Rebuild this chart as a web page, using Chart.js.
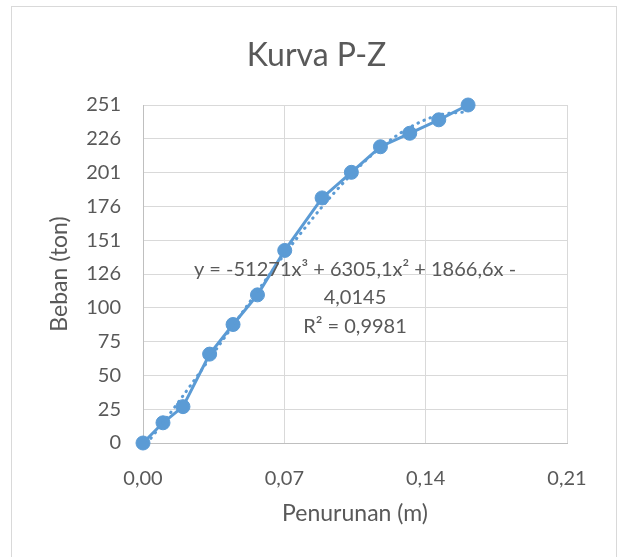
<!DOCTYPE html>
<html>
<head>
<meta charset="utf-8">
<script src="https://cdn.jsdelivr.net/npm/chart.js@4/dist/chart.umd.min.js"></script>
<style>
  html, body { margin: 0; padding: 0; background: #fff; }
  canvas { display: block; }
</style>
</head>
<body>
<canvas id="pzChart" width="617" height="557"></canvas>
<script>
// Penurunan (m) vs Beban (ton)
const penurunan = [0, 0.0099, 0.0198, 0.033, 0.0446, 0.0567, 0.0702, 0.0887, 0.1032, 0.1176, 0.1321, 0.1465, 0.161];
const beban = [0, 15, 27, 66, 88, 110, 143, 182, 201, 220, 230, 240, 251];

// polynomial trendline (order 3) as shown on the chart: a3, a2, a1, a0
const trendCoef = [-51271, 6305.1, 1866.6, -4.0145];
const trendText = ['y = -51271x³ + 6305,1x² + 1866,6x -', '4,0145', 'R² = 0,9981'];

const xTicks = [0, 0.07, 0.14, 0.21];
const xTickLabels = ['0,00', '0,07', '0,14', '0,21'];
const yMax = 251;
const yStep = 25.1;
const yTickLabels = ['0', '25', '50', '75', '100', '126', '151', '176', '201', '226', '251'];

const blue = '#5B9BD5';
const textGray = '#595959';
const font = 'Lato';

const points = penurunan.map((x, i) => ({ x: x, y: beban[i] }));
const trendPoints = penurunan.map(x => ({
    x: x,
    y: trendCoef[0] * x * x * x + trendCoef[1] * x * x + trendCoef[2] * x + trendCoef[3]
}));

// white background and the light frame round the chart
const frame = {
    id: 'frame',
    beforeDraw(chart) {
        const c = chart.ctx;
        c.save();
        c.fillStyle = '#fff';
        c.fillRect(0, 0, chart.width, chart.height);
        c.strokeStyle = '#D9D9D9';
        c.lineWidth = 1;
        c.strokeRect(11.5, 6.5, 605, 600);
        c.restore();
    }
};

// trendline equation label
const eqLabel = {
    id: 'eqLabel',
    afterDatasetsDraw(chart) {
        const c = chart.ctx;
        const xs = chart.scales.x, ys = chart.scales.y;
        const cx = xs.getPixelForValue(0.105);
        const cy = ys.getPixelForValue(129);
        c.save();
        c.font = '20px ' + font;
        c.fillStyle = textGray;
        c.textAlign = 'center';
        c.textBaseline = 'middle';
        trendText.forEach((t, i) => c.fillText(t, cx, cy + i * 28.7));
        c.restore();
    }
};

new Chart(document.getElementById('pzChart'), {
    type: 'scatter',
    data: {
        datasets: [{
            label: 'Trendline',
            data: trendPoints,
            showLine: true,
            borderColor: blue,
            borderWidth: 3,
            borderDash: [0.5, 6],
            borderCapStyle: 'round',
            tension: 0.3,
            pointRadius: 0
        }, {
            label: 'Kurva P-Z',
            data: points,
            showLine: true,
            clip: false,
            borderColor: blue,
            backgroundColor: blue,
            borderWidth: 3,
            pointRadius: 7,
            pointBorderWidth: 1,
            pointBorderColor: blue,
            pointBackgroundColor: blue
        }]
    },
    options: {
        responsive: false,
        animation: false,
        layout: { padding: { left: 16, right: 0, top: 0, bottom: 0 } },
        plugins: {
            legend: { display: false },
            tooltip: { enabled: false },
            title: {
                display: true,
                text: 'Kurva P-Z',
                color: textGray,
                font: { family: font, size: 32, weight: 'normal', lineHeight: 1.2 },
                padding: { top: 36.3, bottom: 30.3 }
            }
        },
        scales: {
            x: {
                type: 'linear',
                min: 0,
                max: 0.21,
                afterBuildTicks: s => { s.ticks = xTicks.map(v => ({ value: v })); },
                afterFit: s => { s.height = 114; },
                grid: { color: '#D9D9D9', lineWidth: 1, drawTicks: false },
                border: { color: '#BFBFBF', width: 1 },
                ticks: {
                    color: textGray,
                    padding: 23.5,
                    font: { family: font, size: 20 },
                    maxRotation: 0,
                    callback: (v, i) => xTickLabels[i]
                },
                title: {
                    display: true,
                    text: 'Penurunan (m)',
                    color: textGray,
                    font: { family: font, size: 23, lineHeight: 1.2 },
                    padding: { top: 0, bottom: 29.2 }
                }
            },
            y: {
                type: 'linear',
                min: 0,
                max: yMax,
                afterFit: s => { s.width = 127; },
                grid: { color: '#D9D9D9', lineWidth: 1, drawTicks: false },
                border: { color: '#BFBFBF', width: 1 },
                ticks: {
                    stepSize: yStep,
                    color: textGray,
                    padding: 22,
                    font: { family: font, size: 20 },
                    callback: (v, i) => yTickLabels[i]
                },
                title: {
                    display: true,
                    text: 'Beban (ton)',
                    color: textGray,
                    font: { family: font, size: 23, lineHeight: 1.2 },
                    padding: { top: 30.2, bottom: 0 }
                }
            },
            // empty space right of the plot
            yRight: {
                type: 'linear',
                position: 'right',
                afterFit: s => { s.width = 50; },
                grid: { display: false },
                border: { display: false },
                ticks: { display: false }
            }
        }
    },
    plugins: [frame, eqLabel]
});
</script>
</body>
</html>
